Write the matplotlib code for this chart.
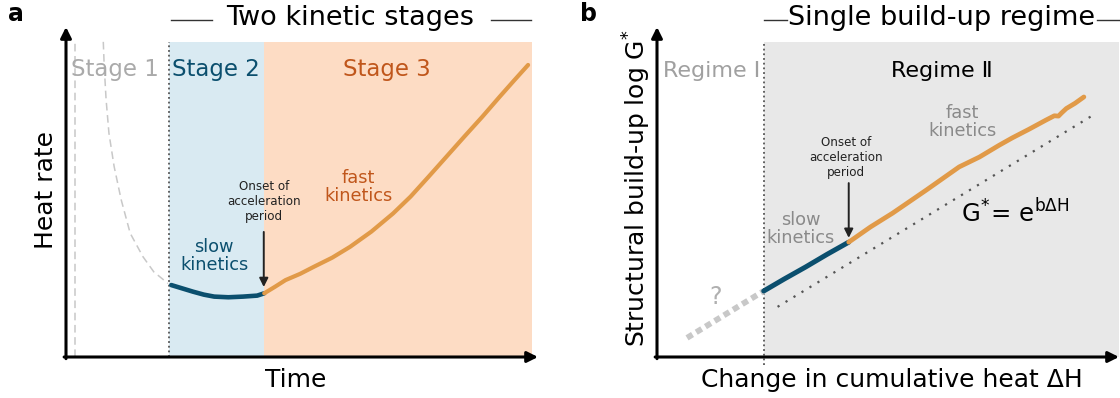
import matplotlib
matplotlib.use("Agg")
import matplotlib.pyplot as plt
from matplotlib.lines import Line2D

plt.rcParams['font.family'] = ['DejaVu Sans']
plt.rcParams['mathtext.fontset'] = 'dejavusans'

# ---------------- data: panel a (heat rate vs time, arbitrary units) ----------------
stage_edges = [21.8, 41.9, 98.7]          # stage 1|2 boundary, onset of acceleration, end
induction_time = [7.9, 8.1, 8.5, 9.1, 10.2, 11.7, 13.6, 16.3, 18.6, 21.6]
induction_rate = [95.5, 88.0, 77.9, 67.8, 57.7, 47.6, 37.5, 30.4, 25.8, 22.3]
slow_time = [22.3, 24.6, 26.9, 29.2, 31.4, 34.4, 37.5, 40.5, 42.0]
slow_rate = [21.8, 20.8, 19.8, 18.9, 18.3, 18.1, 18.3, 18.6, 19.3]
fast_time = [42.0, 44.3, 46.5, 49.6, 52.6, 56.4, 60.2, 64.7, 69.3, 73.0,
             76.8, 80.6, 84.4, 88.2, 91.9, 95.0, 97.9]
fast_rate = [19.3, 21.3, 23.3, 25.2, 27.4, 30.1, 33.4, 38.0, 43.5, 48.6,
             54.6, 60.7, 66.8, 72.8, 78.9, 83.9, 88.5]
stage_labels = ['Stage 1', 'Stage 2', 'Stage 3']

# ---------------- data: panel b (log G* vs cumulative heat) ----------------
regime_edge = 23.1
unknown_dh = [6.5, 23.1]
unknown_g = [5.8, 20.0]
slow_dh = [23.1, 27.5, 32.2, 36.8, 41.5]
slow_g = [20.0, 23.6, 27.3, 31.1, 34.8]
fast_dh = [41.5, 46.2, 51.0, 58.3, 65.4, 69.8, 74.1, 76.9, 80.5, 84.2,
           86.0, 86.9, 87.6, 88.6, 90.5, 92.4]
fast_g = [34.8, 39.4, 43.6, 50.6, 57.6, 60.6, 64.2, 66.4, 69.0, 71.8,
          73.1, 73.0, 74.0, 75.3, 76.9, 78.8]
fit_dh = [26.1, 94.4]
fit_g = [15.2, 73.3]
regime_labels = ['Regime Ⅰ', 'Regime Ⅱ']

# ---------------- colours ----------------
C_BLUE = '#0b4f6e'
C_ORANGE = '#e19a48'
C_STAGE3 = '#c0561b'
C_SHADE2 = '#d9eaf2'
C_SHADE3 = '#fddcc4'
C_SHADE_R2 = '#e8e8e8'
C_LIGHTGRAY = '#c8c8c8'
C_MIDGRAY = '#8a8a8a'
C_DOTS = '#555555'

fig = plt.figure(figsize=(11.2, 3.98), dpi=100)
W, H = 1120, 398


def axes_px(left, right, top, bottom):
    return fig.add_axes([left / W, (H - bottom) / H, (right - left) / W, (bottom - top) / H])


def arrow_axes(ax):
    for s in ax.spines.values():
        s.set_visible(False)
    ax.set_xticks([])
    ax.set_yticks([])
    ax.set_xlim(0, 100)
    ax.set_ylim(0, 100)
    ap = dict(arrowstyle='-|>', lw=2.2, color='black', mutation_scale=16,
              shrinkA=0, shrinkB=0)
    ax.annotate('', xy=(1.0, 0), xytext=(-0.004, 0), xycoords='axes fraction',
                arrowprops=ap, annotation_clip=False)
    ax.annotate('', xy=(0, 1.0), xytext=(0, -0.005), xycoords='axes fraction',
                arrowprops=ap, annotation_clip=False)


def small_arrow(ax, x, y0, y1):
    ax.annotate('', xy=(x, y1), xytext=(x, y0),
                arrowprops=dict(arrowstyle='-|>', lw=1.4, color='#222222',
                                mutation_scale=13, shrinkA=0, shrinkB=0))


def title_with_rules(xc, text, seg1, seg2):
    fig.text(xc / W, (H - 18) / H, text, ha='center', va='center', fontsize=19.5)
    for a, b in (seg1, seg2):
        fig.add_artist(Line2D([a / W, b / W], [(H - 20) / H] * 2, color='#333333', lw=1.0))


# ================= panel a =================
axa = axes_px(66, 538, 27, 357)
arrow_axes(axa)
shade_top = 0.955
axa.axvspan(stage_edges[0], stage_edges[1], ymin=0, ymax=shade_top, color=C_SHADE2, lw=0, zorder=0)
axa.axvspan(stage_edges[1], stage_edges[2], ymin=0, ymax=shade_top, color=C_SHADE3, lw=0, zorder=0)
axa.axvline(1.9, ymin=0, ymax=shade_top, color=C_LIGHTGRAY, lw=1.1, ls=(0, (5, 3)), zorder=1)
axa.axvline(stage_edges[0], ymin=0, ymax=shade_top, color=C_DOTS, lw=1.3, ls=(0, (1, 1.6)), zorder=1)
axa.plot(induction_time, induction_rate, color=C_LIGHTGRAY, lw=1.1, ls=(0, (5, 3)), zorder=2)
axa.plot(slow_time, slow_rate, color=C_BLUE, lw=3.3, solid_capstyle='round', zorder=3)
axa.plot(fast_time, fast_rate, color=C_ORANGE, lw=3.0, solid_capstyle='round', zorder=3)

axa.text(10.4, 87.0, stage_labels[0], color='#aaaaaa', fontsize=16.5, ha='center', va='center')
axa.text(31.8, 87.0, stage_labels[1], color=C_BLUE, fontsize=16.5, ha='center', va='center')
axa.text(68.0, 87.0, stage_labels[2], color=C_STAGE3, fontsize=16.5, ha='center', va='center')
axa.text(31.4, 30.6, 'slow\nkinetics', color=C_BLUE, fontsize=12.8, ha='center', va='center',
         linespacing=1.0)
axa.text(61.9, 51.4, 'fast\nkinetics', color=C_STAGE3, fontsize=12.8, ha='center', va='center',
         linespacing=1.0)
axa.text(41.9, 47.0, 'Onset of\nacceleration\nperiod', color='#222222', fontsize=8.6,
         ha='center', va='center', linespacing=1.2)
small_arrow(axa, stage_edges[1], 37.9, 21.2)

fig.text(46 / W, (H - 190) / H, 'Heat rate', rotation=90, ha='center', va='center', fontsize=18)
fig.text(296 / W, (H - 380) / H, 'Time', ha='center', va='center', fontsize=18)
fig.text(16 / W, (H - 14) / H, 'a', ha='center', va='center', fontsize=17, fontweight='bold')
title_with_rules(350, 'Two kinetic stages', (171, 212), (491, 531))

# ================= panel b =================
axb = axes_px(657, 1119, 27, 357)
arrow_axes(axb)
axb.axvspan(regime_edge, 100, ymin=0, ymax=shade_top, color=C_SHADE_R2, lw=0, zorder=0)
axb.axvline(regime_edge, ymin=-0.025, ymax=shade_top, color=C_DOTS, lw=1.3, ls=(0, (1, 1.6)),
            zorder=1, clip_on=False)
axb.plot(unknown_dh, unknown_g, color=C_LIGHTGRAY, lw=4.2, ls=(0, (1.1, 0.75)), zorder=2)
axb.plot(fit_dh, fit_g, color=C_DOTS, lw=1.6, ls=(0, (1, 3.2)), zorder=2)
axb.plot(slow_dh, slow_g, color=C_BLUE, lw=3.6, solid_capstyle='round', zorder=3)
axb.plot(fast_dh, fast_g, color=C_ORANGE, lw=3.4, solid_capstyle='round', zorder=3)

axb.text(11.9, 86.7, regime_labels[0], color='#a0a0a0', fontsize=16, ha='center', va='center')
axb.text(61.6, 86.7, regime_labels[1], color='black', fontsize=16, ha='center', va='center')
axb.text(66.1, 71.2, 'fast\nkinetics', color=C_MIDGRAY, fontsize=12.8, ha='center', va='center',
         linespacing=1.0)
axb.text(31.1, 38.8, 'slow\nkinetics', color=C_MIDGRAY, fontsize=12.8, ha='center', va='center',
         linespacing=1.0)
axb.text(41.0, 60.6, 'Onset of\nacceleration\nperiod', color='#222222', fontsize=8.6,
         ha='center', va='center', linespacing=1.2)
small_arrow(axb, 41.5, 52.7, 36.1)
axb.text(12.7, 18.2, '?', color='#b0b0b0', fontsize=17, ha='center', va='center')
axb.text(65.9, 43.6, r'$\mathrm{G}^{*}\!=\,\mathrm{e}^{\mathrm{b}\Delta\mathrm{H}}$',
         color='black', fontsize=17.5, ha='left', va='center')

fig.text(637 / W, (H - 188) / H, r'Structural build-up log G$^{*}$', rotation=90,
         ha='center', va='center', fontsize=18)
fig.text(892 / W, (H - 380) / H, 'Change in cumulative heat ΔH', ha='center', va='center',
         fontsize=18)
fig.text(589 / W, (H - 14) / H, 'b', ha='center', va='center', fontsize=17, fontweight='bold')
title_with_rules(942, 'Single build-up regime', (764, 787), (1097, 1120))

fig.savefig('out.png', dpi=100)
